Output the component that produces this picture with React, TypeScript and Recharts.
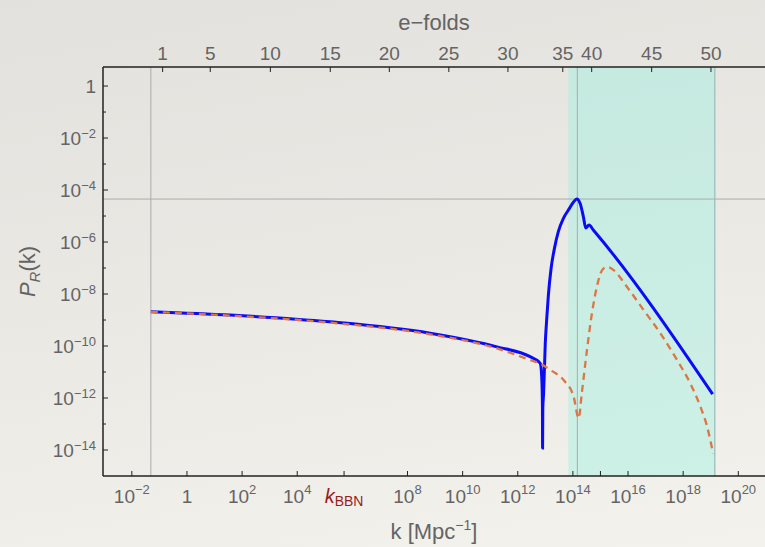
import React from "react";
import {
  LineChart,
  Line,
  XAxis,
  YAxis,
  ReferenceLine,
  ReferenceArea,
} from "recharts";

// axis ranges
const kMin = 9.0e-4;
const kMax = 9.3e20;
const pMin = 1e-15;
const pMax = 5.4;

// solid blue curve
const blueK = [
  0.049, 36.7, 1.55e5, 6.6e8, 1.76e11, 2.8e12, 5.7e12, 6.6e12, 7.4e12, 7.85e12,
  7.95e12, 8.1e12, 8.65e12, 9.95e12, 1.13e13, 1.29e13, 1.62e13, 2.14e13, 2.96e13,
  4.52e13, 6.86e13, 1.04e14, 1.38e14, 1.82e14, 2.4e14, 2.93e14, 3.86e14, 5.5e14,
  1.17e19,
];
const blueP = [
  2.1e-9, 1.55e-9, 8.5e-10, 3.1e-10, 9.3e-11, 3.9e-11, 2.5e-11, 2.1e-11, 6.3e-12,
  5e-13, 1.2e-14, 4e-13, 1.5e-12, 1.26e-10, 1.2e-9, 9.1e-9, 9.8e-8, 5.7e-7, 2.5e-6,
  8.1e-6, 1.7e-5, 3.4e-5, 4.5e-5, 3.1e-5, 9.4e-6, 3.5e-6, 4.5e-6, 2.9e-6, 1.4e-12,
];

// dashed orange curve
const orangeK = [
  0.049, 36.7, 1.55e5, 6.6e8, 1.76e11, 2.8e12, 6.6e12, 1.5e13, 4.6e13, 1.07e14,
  1.62e14, 2.1e14, 3.2e14, 4.9e14, 7.4e14, 1.15e15, 1.74e15, 3.0e15, 9.1e15,
  3.7e16, 1.48e17, 6.0e17, 1.82e18, 4.2e18, 7.4e18, 1.22e19,
];
const orangeP = [
  2.05e-9, 1.48e-9, 7.9e-10, 2.8e-10, 8.1e-11, 2.9e-11, 2.1e-11, 1.2e-11, 4.9e-12,
  1.1e-12, 1.66e-13, 1.5e-12, 6.3e-11, 1.8e-9, 1.9e-8, 8.3e-8, 1.12e-7, 8.3e-8,
  1.9e-8, 2.4e-9, 3.1e-10, 2.9e-11, 3.6e-12, 4.7e-13, 7.9e-14, 7.4e-15,
];

const kBBN = 5.0e5;
const kTicks = [1e-2, 1, 1e2, 1e4, kBBN, 1e8, 1e10, 1e12, 1e14, 1e15, 1e16, 1e18, 1e20];
const pTicks = [
  1, 1e-1, 1e-2, 1e-3, 1e-4, 1e-5, 1e-6, 1e-7, 1e-8, 1e-9, 1e-10, 1e-11, 1e-12,
  1e-13, 1e-14,
];
const efoldTicks = [0.131, 7.0, 1.06e3, 1.58e5, 2.19e7, 3.16e9, 4.4e11, 4.3e13, 4.8e14, 7.2e16, 1.02e19];
const efoldLabels = ["1", "5", "10", "15", "20", "25", "30", "35", "40", "45", "50"];

const shadeFrom = 6.8e13;
const shadeTo = 1.4e19;
const gridK = [0.049, 1.45e14];
const gridP = 4.5e-5;

const blueData = blueK.map((k, i) => ({ k, p: blueP[i] }));
const orangeData = orangeK.map((k, i) => ({ k, p: orangeP[i] }));

const FONT = "'Liberation Sans', Arial, Helvetica, sans-serif";
const TEXT = "#646464";
const AXIS = "#222";

const expOf = (v: number) => Math.round(Math.log10(v));
const supText = (e: number) => (e < 0 ? "\u2212" + -e : String(e));

function Power({ e, supDy, supSize }: { e: number; supDy: number; supSize: number }) {
  if (e === 0) return <>1</>;
  return (
    <>
      10
      <tspan dy={supDy} fontSize={supSize}>
        {supText(e)}
      </tspan>
    </>
  );
}

function KTick(props: any) {
  const { x, y, payload } = props;
  const v = payload.value;
  const e = expOf(v);
  let label: React.ReactNode = null;
  if (v === kBBN) {
    label = (
      <text x={x} y={y + 27} textAnchor="middle" fill="#9b1c1c" fontSize={20} fontFamily={FONT}>
        <tspan fontStyle="italic">k</tspan>
        <tspan dy={3} fontSize={14}>BBN</tspan>
      </text>
    );
  } else if (e % 2 === 0) {
    label = (
      <text x={x} y={y + 27} textAnchor="middle" fill={TEXT} fontSize={19} fontFamily={FONT}>
        <Power e={e} supDy={-9} supSize={13} />
      </text>
    );
  }
  return (
    <g>
      <line x1={x} x2={x} y1={y} y2={y - 5} stroke={AXIS} strokeWidth={1} />
      {label}
    </g>
  );
}

function EfoldTick(props: any) {
  const { x, y, payload } = props;
  const label = efoldLabels[efoldTicks.indexOf(payload.value)];
  return (
    <g>
      <line x1={x} x2={x} y1={y} y2={y + 5} stroke={AXIS} strokeWidth={1} />
      <text x={x} y={y - 7.5} textAnchor="middle" fill={TEXT} fontSize={19} fontFamily={FONT}>
        {label}
      </text>
    </g>
  );
}

function PTick(props: any) {
  const { x, y, payload } = props;
  const e = expOf(payload.value);
  const major = e % 2 === 0;
  return (
    <g>
      <line x1={x} x2={x + (major ? 5 : 3)} y1={y} y2={y} stroke={AXIS} strokeWidth={1} />
      {major && (
        <text x={x - 7} y={y + 6.5} textAnchor="end" fill={TEXT} fontSize={19} fontFamily={FONT}>
          <Power e={e} supDy={-7} supSize={13} />
        </text>
      )}
    </g>
  );
}

function RightTick(props: any) {
  const { x, y, payload } = props;
  const major = expOf(payload.value) % 2 === 0;
  return <line x1={x} x2={x - (major ? 5 : 3)} y1={y} y2={y} stroke={AXIS} strokeWidth={1} />;
}

function BottomTitle(props: any) {
  const vb = props.viewBox;
  return (
    <text x={vb.x + vb.width / 2} y={vb.y + 63} textAnchor="middle" fill={TEXT} fontSize={22} fontFamily={FONT}>
      k [Mpc
      <tspan dy={-9} fontSize={14}>{"\u22121"}</tspan>
      <tspan dy={9}>]</tspan>
    </text>
  );
}

function TopTitle(props: any) {
  const vb = props.viewBox;
  return (
    <text x={vb.x + vb.width / 2} y={30} textAnchor="middle" fill={TEXT} fontSize={22} fontFamily={FONT}>
      {"e\u2212folds"}
    </text>
  );
}

function LeftTitle(props: any) {
  const vb = props.viewBox;
  const cx = 35;
  const cy = vb.y + vb.height / 2;
  return (
    <text
      x={cx}
      y={cy}
      textAnchor="middle"
      fill={TEXT}
      fontSize={22}
      fontFamily={FONT}
      transform={`rotate(-90, ${cx}, ${cy})`}
    >
      <tspan fontStyle="italic">P</tspan>
      <tspan dy={5} fontSize={15} fontStyle="italic">R</tspan>
      <tspan dy={-5}>(k)</tspan>
    </text>
  );
}

export default function App() {
  return (
    <div
      style={{
        position: "absolute",
        left: 0,
        top: 0,
        width: 765,
        height: 547,
        background: "linear-gradient(170deg, #e3e1dd 0%, #eae8e3 45%, #f4f2ed 100%)",
      }}
    >
      <LineChart width={765} height={547} margin={{ top: 0, right: 0, bottom: 0, left: 0 }}>
        <XAxis
          xAxisId="k"
          dataKey="k"
          type="number"
          scale="log"
          domain={[kMin, kMax]}
          allowDataOverflow
          ticks={kTicks}
          interval={0}
          tick={<KTick />}
          tickLine={false}
          tickSize={0}
          tickMargin={0}
          height={71}
          axisLine={{ stroke: AXIS, strokeWidth: 1.5 }}
          label={{ content: (p: any) => <BottomTitle {...p} /> }}
        />
        <XAxis
          xAxisId="efold"
          dataKey="k"
          orientation="top"
          type="number"
          scale="log"
          domain={[kMin, kMax]}
          allowDataOverflow
          ticks={efoldTicks}
          interval={0}
          tick={<EfoldTick />}
          tickLine={false}
          tickSize={0}
          tickMargin={0}
          height={67}
          axisLine={{ stroke: AXIS, strokeWidth: 1.5 }}
          label={{ content: (p: any) => <TopTitle {...p} /> }}
        />
        <YAxis
          yAxisId="p"
          type="number"
          scale="log"
          domain={[pMin, pMax]}
          allowDataOverflow
          ticks={pTicks}
          interval={0}
          tick={<PTick />}
          tickLine={false}
          tickSize={0}
          tickMargin={0}
          width={103}
          axisLine={{ stroke: AXIS, strokeWidth: 1.5 }}
          label={{ content: (p: any) => <LeftTitle {...p} /> }}
        />
        <YAxis
          yAxisId="r"
          orientation="right"
          type="number"
          scale="log"
          domain={[pMin, pMax]}
          allowDataOverflow
          ticks={pTicks}
          interval={0}
          tick={<RightTick />}
          tickLine={false}
          tickSize={0}
          tickMargin={0}
          width={0}
          axisLine={false}
        />
        <ReferenceArea
          xAxisId="k"
          yAxisId="p"
          x1={shadeFrom}
          x2={shadeTo}
          fill="#96f0e0"
          fillOpacity={0.4}
          stroke="none"
        />
        <ReferenceLine xAxisId="k" yAxisId="p" x={shadeTo} stroke="#a3c6c2" strokeWidth={1.5} />
        {gridK.map((k) => (
          <ReferenceLine key={k} xAxisId="k" yAxisId="p" x={k} stroke="#ababab" strokeWidth={1} />
        ))}
        <ReferenceLine xAxisId="k" yAxisId="p" y={gridP} stroke="#ababab" strokeWidth={1} />
        {/* invisible copy so the top and right axes have a series bound to them */}
        <Line
          data={blueData}
          xAxisId="efold"
          yAxisId="r"
          dataKey="p"
          stroke="none"
          dot={false}
          activeDot={false}
          legendType="none"
          isAnimationActive={false}
        />
        <Line
          data={blueData}
          xAxisId="k"
          yAxisId="p"
          dataKey="p"
          type="monotone"
          stroke="#0b0cf6"
          strokeWidth={3}
          dot={false}
          isAnimationActive={false}
        />
        <Line
          data={orangeData}
          xAxisId="k"
          yAxisId="p"
          dataKey="p"
          type="monotone"
          stroke="#de7545"
          strokeWidth={2.3}
          strokeDasharray="7 5"
          dot={false}
          isAnimationActive={false}
        />
      </LineChart>
    </div>
  );
}
